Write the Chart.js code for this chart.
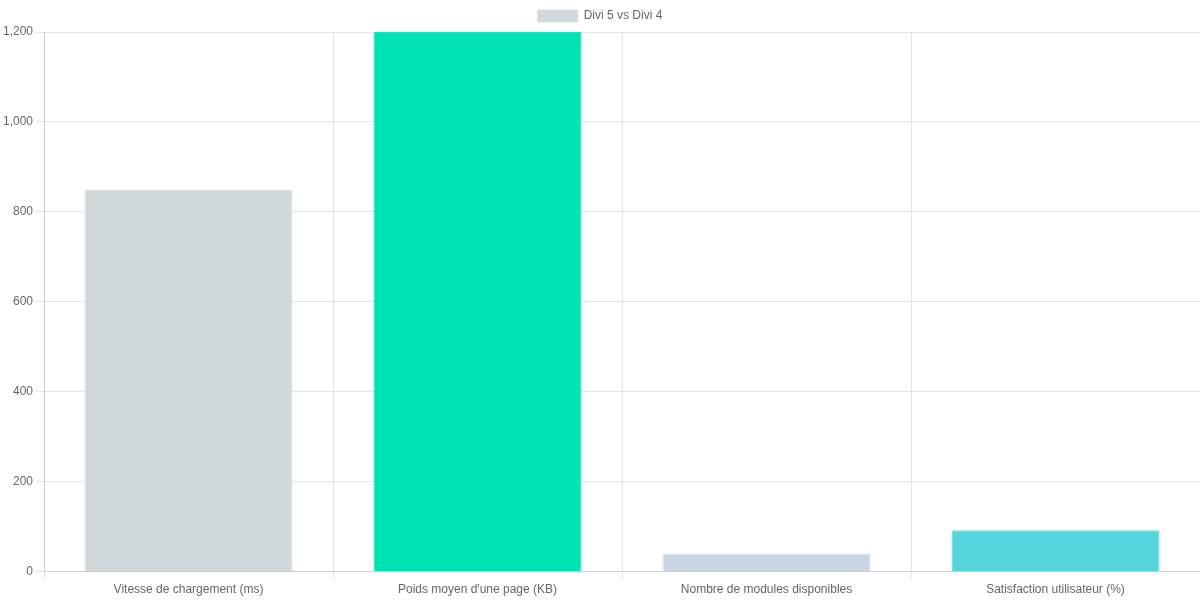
<!DOCTYPE html>
<html>
<head>
<meta charset="utf-8">
<script src="https://cdn.jsdelivr.net/npm/chart.js@4.4.0/dist/chart.umd.min.js"></script>
<style>
    html, body { margin: 0; padding: 0; background: #fff; }
    #wrap { width: 1200px; height: 600px; }
</style>
</head>
<body>
<div id="wrap"><canvas id="divi-chart"></canvas></div>
<script>
const categories = [
    'Vitesse de chargement (ms)',
    "Poids moyen d'une page (KB)",
    'Nombre de modules disponibles',
    'Satisfaction utilisateur (%)'
];
const seriesLabel = 'Divi 5 vs Divi 4';
const seriesValues = [850, 1200, 40, 92];
const barColors = ['#d1d8dc', '#00e3b4', '#cbd6e4', '#56d4dc'];
const borderColors = ['#d9dfe2', '#1ae8bd', '#dbe3ed', '#6cdbe2'];

const ctx = document.getElementById('divi-chart').getContext('2d');
const chart = new Chart(ctx, {
    type: 'bar',
    data: {
        labels: categories,
        datasets: [{
            label: seriesLabel,
            data: seriesValues,
            backgroundColor: barColors,
            borderColor: borderColors,
            borderWidth: 1
        }]
    },
    options: {
        responsive: true,
        maintainAspectRatio: false,
        animation: false,
        plugins: {
            legend: { display: true, labels: { color: '#666' } }
        },
        scales: {
            x: { ticks: { color: '#666' } },
            y: { beginAtZero: true, ticks: { color: '#666' } }
        }
    }
});
</script>
</body>
</html>
